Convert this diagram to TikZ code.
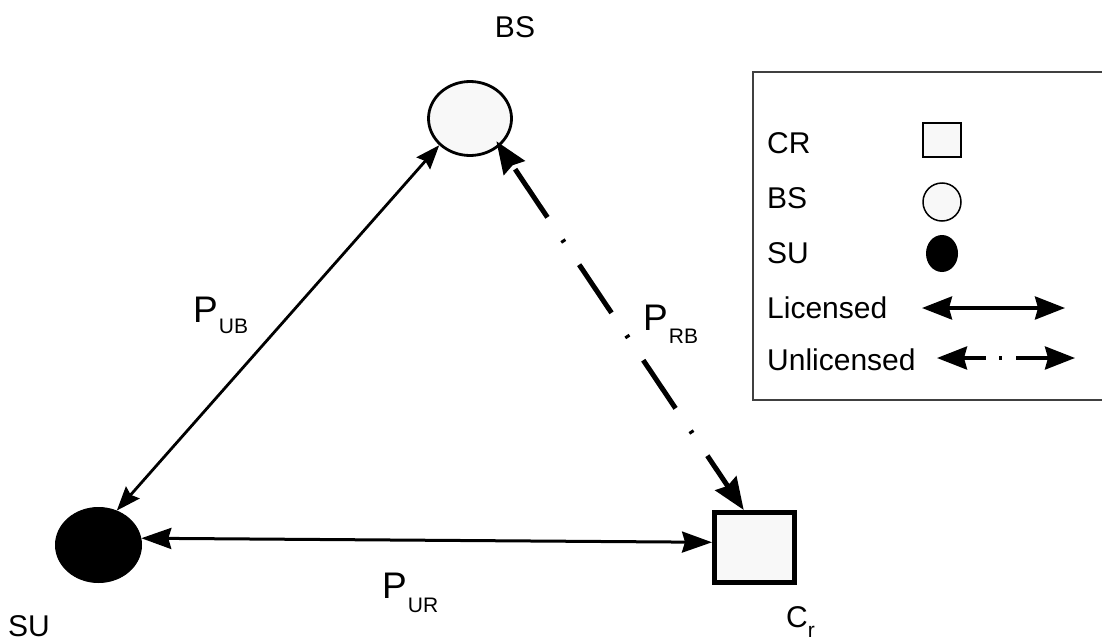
\documentclass[tikz,border=0pt]{standalone}
\usepackage{fontspec}
\setmainfont{Liberation Sans}
\usetikzlibrary{arrows.meta,shapes.geometric}
\definecolor{shapefill}{HTML}{F8F8F8}
\definecolor{boxline}{HTML}{404040}
\newcommand\mysub[2]{\raisebox{-#2pt}{\fontsize{21}{21}\selectfont #1}}
\begin{document}
\begin{tikzpicture}[x=1pt,y=-1pt,
  lbl/.style={font=\fontsize{30}{36}\selectfont, inner sep=0pt, anchor=base west},
  plbl/.style={font=\fontsize{37}{44}\selectfont, inner sep=0pt, anchor=base west},
  bsnode/.style={ellipse, draw, line width=2.8pt, fill=shapefill, minimum width=83pt, minimum height=74pt, inner sep=0pt},
  sunode/.style={ellipse, draw, fill=black, line width=1pt, minimum width=86pt, minimum height=75pt, inner sep=0pt},
  crnode/.style={rectangle, draw, line width=5pt, fill=shapefill, minimum width=80pt, minimum height=70pt, inner sep=0pt},
  lic/.style={line width=2.8pt, {Stealth[length=24pt,width=18pt,inset=3pt]}-{Stealth[length=24pt,width=18pt,inset=3pt]}},
  licb/.style={line width=3pt, {Stealth[length=30pt,width=21pt,inset=3pt]}-{Stealth[length=30pt,width=21pt,inset=3pt]}},
  unlic/.style={line width=5pt, dash pattern=on 58pt off 27pt on 3pt off 27pt, dash phase=-6pt,
     {Stealth[length=32pt,width=25pt,inset=3pt]}-{Stealth[length=32pt,width=25pt,inset=3pt]}},
  leglic/.style={line width=3.5pt, {Stealth[length=30pt,width=23pt,inset=3pt]}-{Stealth[length=30pt,width=23pt,inset=3pt]}},
  legunlic/.style={line width=3.5pt, dash pattern=on 23pt off 13pt on 3pt off 14pt on 40pt,
     {Stealth[length=30pt,width=23pt,inset=3pt]}-{Stealth[length=30pt,width=23pt,inset=3pt]}},
  legbox/.style={draw=boxline, line width=1.5pt},
]
\useasboundingbox (0,0) rectangle (1102,637);

% main nodes
\node[bsnode] (BS) at (470,118.5) {};
\node[sunode] (SU) at (98.5,545) {};
\node[crnode] (Cr) at (754.5,547.5) {};

% node labels
\node[lbl, anchor=base] (BSlabel) at (515,37) {BS};
\node[lbl] (SUlabel) at (8,636) {SU};
\node[lbl] (Crlabel) at (786,627) {C\mysub{r}{10}};

% connectors
\draw[lic] (SU.62) -- (BS.221);
\draw[unlic, shorten <=-6pt] (BS.-43) -- (Cr.106.5);
\draw[licb] (SU.9) -- (Cr.173);

% connector labels
\node[plbl] (PUB) at (193,322) {P\hspace{1pt}\mysub{UB}{11}};
\node[plbl] (PRB) at (643,330) {P\hspace{1pt}\mysub{RB}{13}};
\node[plbl] (PUR) at (382,598) {P\hspace{1pt}\mysub{UR}{14}};

% legend
\draw[legbox] (753,72) rectangle (1120,400);
\node[lbl] (lCR) at (767,153) {CR};
\node[lbl] (lBS) at (767,208) {BS};
\node[lbl] (lSU) at (767,263) {SU};
\node[lbl] (lLic) at (767,318) {Licensed};
\node[lbl] (lUnl) at (767,370) {Unlicensed};
\node[rectangle, draw, line width=1.5pt, fill=shapefill, minimum width=38pt, minimum height=34pt, inner sep=0pt] (symCR) at (942,140) {};
\node[circle, draw, line width=1.5pt, fill=shapefill, minimum size=38pt, inner sep=0pt] (symBS) at (942,202) {};
\node[ellipse, fill=black, minimum width=32pt, minimum height=37pt, inner sep=0pt] (symSU) at (942,253.5) {};
\coordinate (licA) at (922,308);
\coordinate (licB) at (1065,308);
\coordinate (unlA) at (937,358);
\coordinate (unlB) at (1075,358);
\draw[leglic] (licA) -- (licB);
\draw[legunlic] (unlA) -- (unlB);
\end{tikzpicture}
\end{document}
